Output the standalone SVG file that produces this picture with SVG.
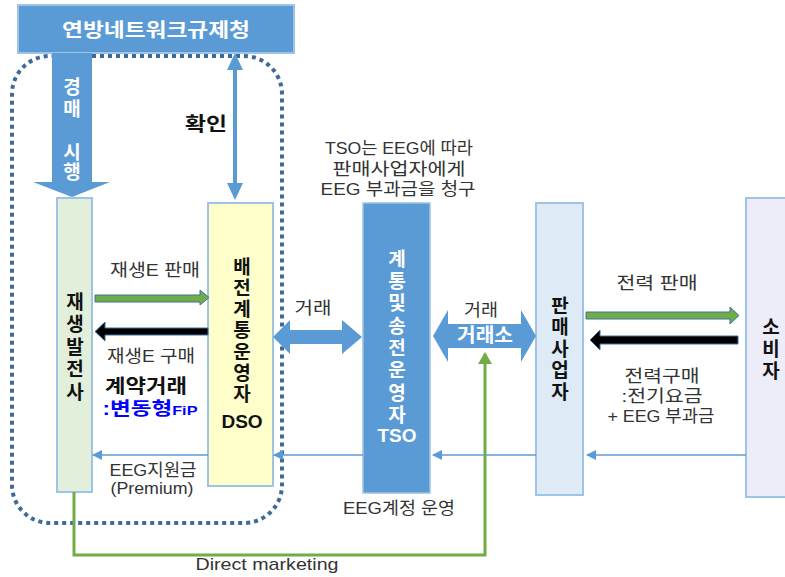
<svg xmlns="http://www.w3.org/2000/svg" width="785" height="577" viewBox="0 0 785 577">
<style>
text{font-family:"Liberation Sans","Noto Sans CJK KR",sans-serif;text-anchor:middle;}
.t{font-size:17px;fill:#333;}
.b{font-size:19px;font-weight:bold;fill:#111;}
.w{font-size:19px;font-weight:bold;fill:#fff;}
.v{font-family:"Noto Sans CJK KR",sans-serif;writing-mode:vertical-rl;text-anchor:start;}
.box{stroke:#9dc3e6;stroke-width:2;}
.thin{stroke:#5b9bd5;stroke-width:1.3;fill:none;}
.ga{fill:#70ad47;stroke:#41719c;stroke-width:1;}
.ka{fill:#000;stroke:#41719c;stroke-width:1;}
.ba{fill:#5b9bd5;}
</style>
<defs>
<marker id="ah" markerWidth="10" markerHeight="10" refX="9" refY="5" orient="auto" markerUnits="userSpaceOnUse">
<path d="M0,0 L10,5 L0,10 Z" fill="#5b9bd5"/>
</marker>
<marker id="gh" markerWidth="14" markerHeight="14" refX="7" refY="2" orient="0" markerUnits="userSpaceOnUse">
<path d="M0,12 L7,0 L14,12 Z" fill="#70ad47"/>
</marker>
</defs>
<rect width="785" height="577" fill="#fff"/>

<g id="dso-zone">
<path d="M52,56 H244 A38,38 0 0 1 282,94 V485 A38,38 0 0 1 244,523 H50 A38,38 0 0 1 12,485 V94 A38,38 0 0 1 50,56 Z" fill="none" stroke="#3c6a9a" stroke-width="4" stroke-dasharray="4 4"/>
</g>

<g id="regulator">
<rect x="18" y="5" width="276" height="48" fill="#5b9bd5" stroke="#9dc3e6" stroke-width="2"/>
<text class="w" x="156" y="37" font-size="18" textLength="188" lengthAdjust="spacingAndGlyphs">연방네트워크규제청</text>
</g>

<g id="generator">
<rect class="box" x="57" y="198" width="35" height="294" fill="#e2efda"/>
<text class="b v" x="75" y="292" letter-spacing="3.5">재생발전사</text>
</g>

<g id="dso">
<rect class="box" x="208" y="203" width="65" height="283" fill="#ffffcc"/>
<text class="b v" x="242" y="257" letter-spacing="2.2">배전계통운영자</text>
<text class="b" x="242" y="428" font-size="15">DSO</text>
</g>

<g id="tso">
<rect x="363" y="203" width="67" height="290" fill="#5b9bd5" stroke="#9dc3e6" stroke-width="1.5"/>
<text class="w v" x="397" y="249" letter-spacing="3.3">계통및송전운영자</text>
<text class="w" x="397" y="442" font-size="15">TSO</text>
</g>

<g id="supplier">
<rect class="box" x="536" y="203" width="47" height="292" fill="#deebf7"/>
<text class="b v" x="560" y="296" letter-spacing="2.5">판매사업자</text>
</g>

<g id="consumer">
<rect class="box" x="746" y="198" width="50" height="299" fill="#ededfa"/>
<text class="b v" x="771" y="317" letter-spacing="3">소비자</text>
</g>

<g id="connectors">
<!-- 경매 시행 big arrow -->
<path class="ba" d="M52,53 H92 V182 H110 L72,197 L33,182 H52 Z"/>
<text class="w v" x="72" y="77" letter-spacing="3">경매</text>
<text class="w v" x="72" y="142" letter-spacing="1.5">시행</text>
<!-- 확인 double arrow -->
<path class="ba" d="M235,53 L243,70 H237 V183 H243 L235,200 L227,183 H233 V70 H227 Z"/>
<text class="b" x="206" y="131" font-size="20" textLength="42" lengthAdjust="spacingAndGlyphs">확인</text>

<!-- generator <-> DSO -->
<path class="ga" d="M95,295 H200 V290 L209,297.5 L200,305 V302 H95 Z"/>
<path class="ka" d="M208,328 H105 V322 L95,331.5 L105,341 V335 H208 Z"/>
<text class="t" x="155" y="276" textLength="90" lengthAdjust="spacingAndGlyphs">재생E 판매</text>
<text class="t" x="151" y="362" textLength="88" lengthAdjust="spacingAndGlyphs">재생E 구매</text>
<text class="b" x="146" y="393" font-size="18" textLength="82" lengthAdjust="spacingAndGlyphs">계약거래</text>
<text x="150" y="415" textLength="95" lengthAdjust="spacingAndGlyphs" style="font-size:18px;font-weight:bold;fill:#0000ff">:변동형<tspan font-size="13">FiP</tspan></text>

<!-- DSO <-> TSO -->
<path class="ba" d="M273,337 L290,320 V330 H342 V320 L362,337 L342,354 V344 H290 V354 Z"/>
<text class="t" x="313" y="314" textLength="37" lengthAdjust="spacingAndGlyphs">거래</text>

<!-- TSO <-> supplier -->
<path class="ba" d="M433,336 L448,310 V324 H521 V310 L536,336 L521,362 V348 H448 V362 Z"/>
<text class="t" x="481" y="316" textLength="34" lengthAdjust="spacingAndGlyphs">거래</text>
<text class="w" x="485" y="342" font-size="17" textLength="56" lengthAdjust="spacingAndGlyphs">거래소</text>

<!-- supplier <-> consumer -->
<path class="ga" d="M586,312 H730 V307 L739,315.5 L730,324 V319 H586 Z"/>
<path class="ka" d="M738,336 H600 V330 L590,340 L600,350 V344 H738 Z"/>
<text class="t" x="657" y="289" textLength="81" lengthAdjust="spacingAndGlyphs">전력 판매</text>
<text class="t" x="662" y="382" textLength="75" lengthAdjust="spacingAndGlyphs">전력구매</text>
<text class="t" x="662" y="402" textLength="81" lengthAdjust="spacingAndGlyphs">:전기요금</text>
<text class="t" x="661" y="422" textLength="107" lengthAdjust="spacingAndGlyphs">+ EEG 부과금</text>

<!-- thin money flows -->
<line class="thin" x1="208" y1="455" x2="93" y2="455" marker-end="url(#ah)"/>
<line class="thin" x1="363" y1="455" x2="274" y2="455" marker-end="url(#ah)"/>
<line class="thin" x1="536" y1="455" x2="433" y2="455" marker-end="url(#ah)"/>
<line class="thin" x1="746" y1="455" x2="587" y2="455" marker-end="url(#ah)"/>
<text class="t" x="153" y="476" font-size="15" textLength="87" lengthAdjust="spacingAndGlyphs">EEG지원금</text>
<text class="t" x="152" y="494" font-size="15" textLength="83" lengthAdjust="spacingAndGlyphs">(Premium)</text>

<!-- direct marketing -->
<path d="M74,492 V555 H485 V354" fill="none" stroke="#70ad47" stroke-width="3" marker-end="url(#gh)"/>
<text class="t" x="267" y="570" textLength="143" lengthAdjust="spacingAndGlyphs">Direct marketing</text>

<text class="t" x="399" y="154" textLength="148" lengthAdjust="spacingAndGlyphs">TSO는 EEG에 따라</text>
<text class="t" x="399" y="175" textLength="133" lengthAdjust="spacingAndGlyphs">판매사업자에게</text>
<text class="t" x="398" y="195" textLength="155" lengthAdjust="spacingAndGlyphs">EEG 부과금을 청구</text>
<text class="t" x="399" y="514" textLength="112" lengthAdjust="spacingAndGlyphs">EEG계정 운영</text>
</g>
</svg>
